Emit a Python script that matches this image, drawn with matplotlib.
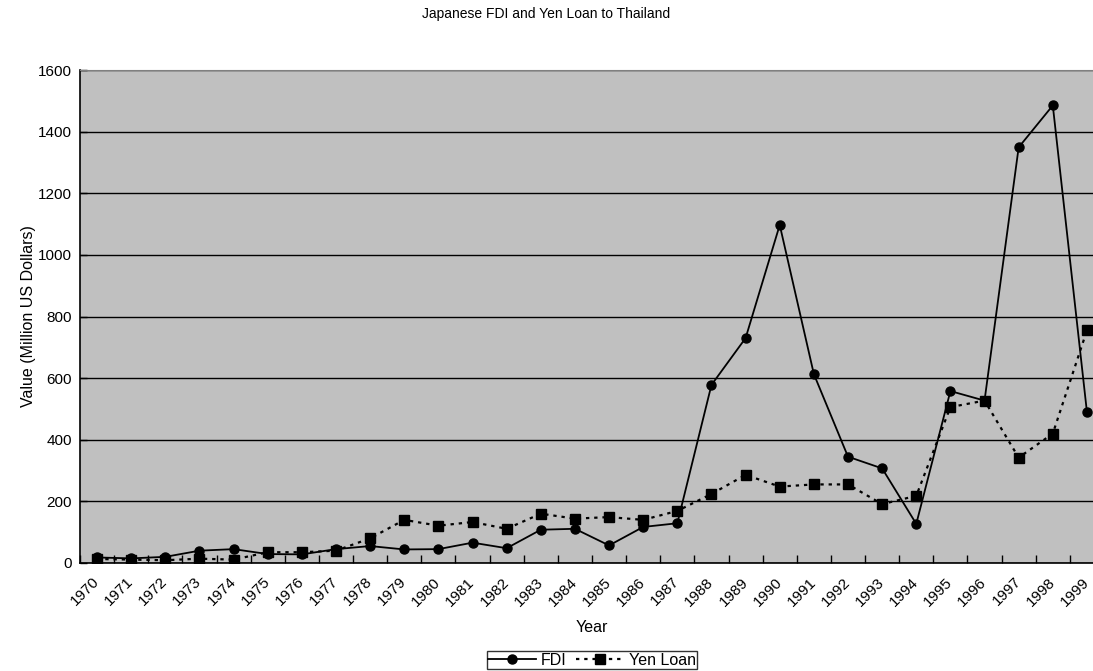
import matplotlib
matplotlib.use("Agg")
import matplotlib.pyplot as plt
import matplotlib.transforms as mtransforms

plt.rcParams['font.family'] = ['Liberation Sans', 'DejaVu Sans']

years = [str(y) for y in range(1970, 2000)]
fdi = [18, 15, 20, 40, 45, 29, 28, 45, 55, 44, 45, 66, 48, 108, 111, 57, 117, 129,
       578, 730, 1097, 613, 345, 307, 127, 558, 527, 1349, 1485, 490]
yen_loan = [13, 11, 9, 14, 11, 35, 35, 40, 80, 140, 121, 133, 111, 160, 144, 149, 140, 169,
            224, 286, 248, 255, 255, 191, 218, 506, 527, 342, 420, 755]
y_ticks = [0, 200, 400, 600, 800, 1000, 1200, 1400, 1600]

W, H = 1093, 671
fig = plt.figure(figsize=(W / 100, H / 100), dpi=100)
ax = fig.add_axes([80 / W, 1 - 563 / H, (1104 - 80) / W, (563 - 70) / H])
ax.set_facecolor('#C0C0C0')

x = list(range(len(years)))
ax.plot(x, fdi, color='black', lw=1.3, marker='o', ms=6.5, label='FDI', zorder=3)
ax.plot(x, yen_loan, color='black', lw=1.6, ls=(0, (1.5, 2.2)), marker='s', ms=6.5,
        label='Yen Loan', zorder=3)

ax.set_xlim(-0.5, len(years) - 0.5)
ax.set_ylim(0, 1600)
ax.set_yticks(y_ticks)
ax.set_yticklabels([str(v) for v in y_ticks], fontsize=11)
ax.yaxis.grid(True, color='black', lw=1)
ax.set_axisbelow(True)

# category boundaries carry the tick marks, category centres carry the labels
ax.set_xticks([i - 0.5 for i in range(len(years) + 1)], minor=False)
ax.set_xticklabels([''] * (len(years) + 1))
ax.set_xticks(x, minor=True)
ax.set_xticklabels(years, minor=True, rotation=45, ha='right', va='center',
                   rotation_mode='anchor', fontsize=11)
shift = mtransforms.ScaledTranslation(-6 / 100, 0, fig.dpi_scale_trans)
for lbl in ax.get_xticklabels(minor=True):
    lbl.set_transform(lbl.get_transform() + shift)
ax.tick_params(axis='x', which='major', direction='in', length=6, width=1)
ax.tick_params(axis='x', which='minor', length=0, pad=12)
ax.tick_params(axis='y', direction='in', length=5, width=1, pad=6)

for s in ['left', 'bottom']:
    ax.spines[s].set_color('black')
    ax.spines[s].set_linewidth(1.2)
ax.spines['top'].set_color('#808080')
ax.spines['right'].set_color('#808080')

ax.set_xlabel('Year', fontsize=11.5, labelpad=8)
ax.set_ylabel('Value (Million US Dollars)', fontsize=11.5, labelpad=1)
fig.text(546 / W, 1 - 14 / H, 'Japanese FDI and Yen Loan to Thailand', ha='center', va='center',
         fontsize=10)

leg = fig.legend(loc='upper center', bbox_to_anchor=(592 / W, 1 - 651 / H), ncol=2,
                 frameon=True, fancybox=False, edgecolor='black', fontsize=11.5,
                 handlelength=3, columnspacing=0.6, handletextpad=0.3, borderpad=0.1,
                 borderaxespad=0)
leg.get_frame().set_linewidth(1)

fig.savefig('out.png', dpi=100)
